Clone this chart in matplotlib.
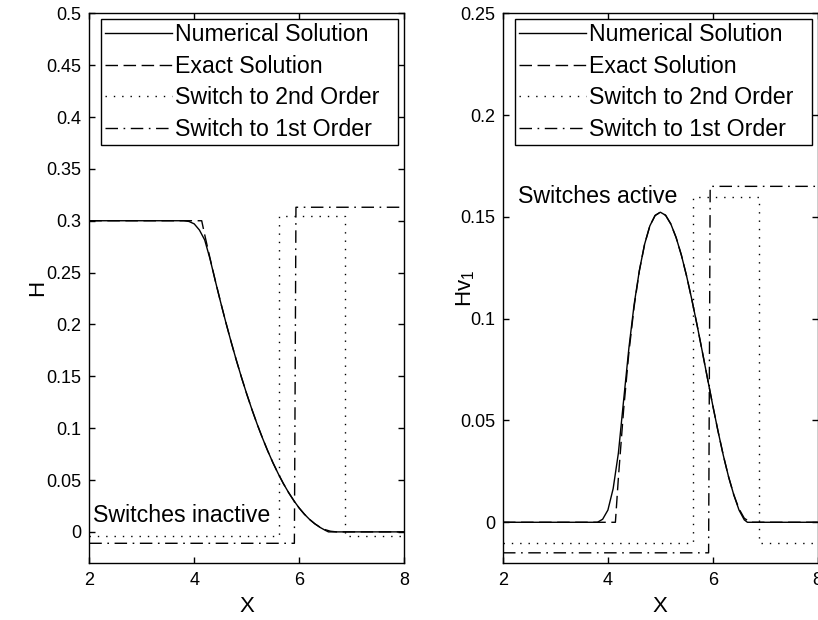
import matplotlib
matplotlib.use("Agg")
import matplotlib.pyplot as plt

plt.rcParams["font.family"] = ["Liberation Sans", "DejaVu Sans"]
plt.rcParams["mathtext.fontset"] = "custom"
plt.rcParams["mathtext.rm"] = "Liberation Sans"
plt.rcParams["mathtext.it"] = "Liberation Sans:italic"

# ---------------- data ----------------
# depth H, numerical solution
h_num_x = [2.0, 3.8, 3.9, 4.0, 4.1, 4.2, 4.3, 4.4, 4.5, 4.6, 4.7, 4.8, 4.9, 5.0,
           5.1, 5.2, 5.3, 5.4, 5.5, 5.6, 5.7, 5.8, 5.9, 6.0, 6.1, 6.2, 6.3,
           6.4, 6.5, 6.56, 8.0]
h_num = [0.3, 0.3, 0.2993, 0.297, 0.291, 0.2815, 0.2635, 0.2425, 0.2222, 0.2026,
         0.1839, 0.1661, 0.1492, 0.1332, 0.1181, 0.1039, 0.0907, 0.0783, 0.0668,
         0.0563, 0.0466, 0.0379, 0.0301, 0.0231, 0.0171, 0.0120, 0.0078,
         0.0043, 0.0015, 0.0, 0.0]

# depth H, exact solution
h_ex_x = [2.0, 4.143, 4.2, 4.3, 4.4, 4.5, 4.6, 4.7, 4.8, 4.9, 5.0, 5.1, 5.2,
          5.3, 5.4, 5.5, 5.6, 5.7, 5.8, 5.9, 6.0, 6.1, 6.2, 6.3, 6.4, 6.5,
          6.6, 6.715, 8.0]
h_ex = [0.3, 0.3, 0.2865, 0.2642, 0.2427, 0.2222, 0.2026, 0.1839, 0.1661,
        0.1492, 0.1332, 0.1181, 0.1039, 0.0907, 0.0783, 0.0668, 0.0563,
        0.0466, 0.0379, 0.0301, 0.0231, 0.0171, 0.0120, 0.0078, 0.0045,
        0.0021, 0.0006, 0.0, 0.0]

# discharge Hv1, numerical solution
hv_num_x = [2.0, 3.8, 3.9, 4.0, 4.1, 4.2, 4.3, 4.4, 4.5, 4.6, 4.7, 4.8, 4.9,
            5.0, 5.1, 5.2, 5.3, 5.4, 5.5, 5.6, 5.7, 5.8, 5.9, 6.0, 6.1, 6.2,
            6.3, 6.4, 6.5, 6.6, 6.66, 8.0]
hv_num = [0.0, 0.0, 0.0015, 0.006, 0.0165, 0.034, 0.060, 0.0855, 0.107, 0.1237,
          0.1366, 0.1456, 0.1507, 0.1523, 0.1508, 0.1465, 0.1399, 0.1313,
          0.1210, 0.1094, 0.0969, 0.0838, 0.0705, 0.0573, 0.0447, 0.0329,
          0.0224, 0.0135, 0.0060, 0.0012, 0.0, 0.0]

# discharge Hv1, exact solution
hv_ex_x = [2.0, 4.143, 4.2, 4.3, 4.4, 4.5, 4.6, 4.7, 4.8, 4.9, 5.0, 5.1, 5.2,
           5.3, 5.4, 5.5, 5.6, 5.7, 5.8, 5.9, 6.0, 6.1, 6.2, 6.3, 6.4, 6.5,
           6.6, 6.715, 8.0]
hv_ex = [0.0, 0.0, 0.0219, 0.0554, 0.0833, 0.1059, 0.1235, 0.1366, 0.1456,
         0.1507, 0.1523, 0.1508, 0.1465, 0.1399, 0.1313, 0.1210, 0.1094,
         0.0969, 0.0838, 0.0705, 0.0573, 0.0447, 0.0329, 0.0224, 0.0135,
         0.0066, 0.0020, 0.0, 0.0]

# limiter switch indicators (step traces)
sw2_x = [2.0, 5.62, 5.62, 6.88, 6.88, 8.0]
sw2_h = [-0.004, -0.004, 0.305, 0.305, -0.004, -0.004]
sw1_x = [2.0, 5.91, 5.94, 8.0]
sw1_h = [-0.011, -0.011, 0.313, 0.313]

sw2_xr = [2.0, 5.63, 5.63, 6.88, 6.88, 8.0]
sw2_hv = [-0.010, -0.010, 0.160, 0.160, -0.010, -0.010]
sw1_xr = [2.0, 5.92, 5.95, 8.0]
sw1_hv = [-0.015, -0.015, 0.165, 0.165]

left_yticks = [0, 0.05, 0.1, 0.15, 0.2, 0.25, 0.3, 0.35, 0.4, 0.45, 0.5]
left_yticklabels = ["0", "0.05", "0.1", "0.15", "0.2", "0.25", "0.3", "0.35",
                    "0.4", "0.45", "0.5"]
right_yticks = [0, 0.05, 0.1, 0.15, 0.2, 0.25]
right_yticklabels = ["0", "0.05", "0.1", "0.15", "0.2", "0.25"]
xticks = [2, 4, 6, 8]
labels = ["Numerical Solution", "Exact Solution", "Switch to 2nd Order",
          "Switch to 1st Order"]

# ---------------- figure ----------------
W, H = 818, 620
fig = plt.figure(figsize=(W / 100, H / 100), dpi=100)
axL = fig.add_axes([89.3 / W, 57 / H, 314.7 / W, 549.7 / H])
axR = fig.add_axes([503 / W, 57 / H, 314.7 / W, 549.7 / H])

LW = 1.0
dashed = (0, (9, 4))
dotted = (0, (1, 5))
dashdot = (0, (9, 4, 1.2, 4))

FS_TXT = 16.7


def draw(ax, xn, yn, xe, ye, x2, y2, x1, y1):
    ax.plot(xn, yn, color="black", lw=LW, ls="-", label=labels[0])
    ax.plot(xe, ye, color="black", lw=LW, ls=dashed, label=labels[1])
    ax.plot(x2, y2, color="black", lw=LW, ls=dotted, label=labels[2])
    ax.plot(x1, y1, color="black", lw=LW, ls=dashdot, label=labels[3])


def style(ax, ylim, yt, ytl):
    ax.set_xlim(2, 8)
    ax.set_ylim(*ylim)
    ax.set_xticks(xticks)
    ax.set_xticklabels([str(v) for v in xticks])
    ax.set_yticks(yt)
    ax.set_yticklabels(ytl)
    ax.tick_params(direction="in", length=4.3, width=1, top=True, right=True,
                   labelsize=13, colors="black")
    ax.tick_params(axis="x", pad=6.2)
    ax.tick_params(axis="y", pad=5.5)
    for s in ax.spines.values():
        s.set_linewidth(1)
    leg = ax.legend(loc="upper left",
                    bbox_to_anchor=(0.0372, 0.742, 0.9437, 0.2476),
                    mode="expand", borderaxespad=0, fontsize=FS_TXT,
                    handlelength=2.9, handletextpad=0.13, borderpad=0.18,
                    labelspacing=0.37, fancybox=False, framealpha=1,
                    edgecolor="black")
    leg.get_frame().set_linewidth(1)
    ax.set_xlabel("X", fontsize=16)
    ax.xaxis.label.set_verticalalignment("center")
    ax.xaxis.set_label_coords(0.5, -0.08)


draw(axL, h_num_x, h_num, h_ex_x, h_ex, sw2_x, sw2_h, sw1_x, sw1_h)
style(axL, (-0.03, 0.5), left_yticks, left_yticklabels)
axL.set_ylabel("H", fontsize=16)
axL.yaxis.label.set_verticalalignment("center")
axL.yaxis.set_label_coords(-0.163, 0.5)
axL.text(2.065, 0.0095, "Switches inactive", fontsize=FS_TXT, va="baseline")

draw(axR, hv_num_x, hv_num, hv_ex_x, hv_ex, sw2_xr, sw2_hv, sw1_xr, sw1_hv)
style(axR, (-0.02, 0.25), right_yticks, right_yticklabels)
axR.set_ylabel("Hv$_1$", fontsize=16)
axR.yaxis.label.set_verticalalignment("center")
axR.yaxis.set_label_coords(-0.117, 0.5)
axR.text(2.29, 0.1566, "Switches active", fontsize=FS_TXT, va="baseline")

fig.savefig("out.png", dpi=100, facecolor="white")
